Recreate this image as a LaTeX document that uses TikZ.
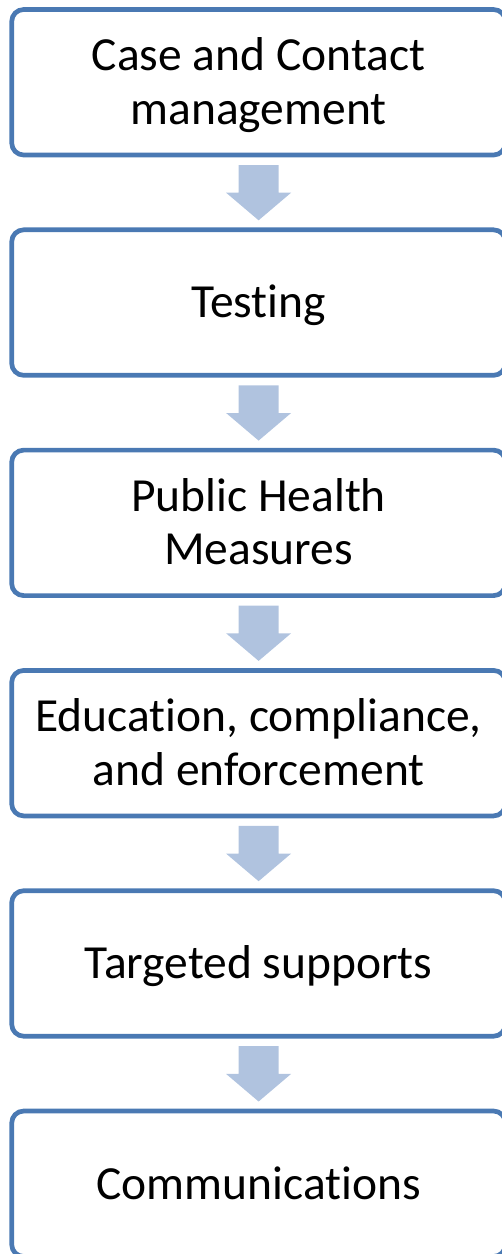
\documentclass[tikz,border=0pt]{standalone}
\usepackage{fontspec}
\setmainfont{Carlito}[Ligatures=NoCommon]
\usetikzlibrary{calc}
\definecolor{boxline}{HTML}{4A79B3}
\definecolor{flowfill}{HTML}{B0C3DF}
\tikzset{
  stage/.style={draw=boxline, line width=4.7pt, fill=white, rounded corners=12pt,
    minimum width=493.8pt, minimum height=145.5pt, inner sep=0pt, outer sep=0pt,
    align=center, font=\fontsize{47.5}{53.3}\selectfont, text height=30.5pt, text depth=0pt},
  twoline/.style={text height=83.8pt},
  flowarrow/.style={fill=flowfill, draw=none}
}
% down arrow between two stages: shaft 40 wide, head 65 wide
\newcommand{\flowdown}[2]{%
  \fill[flowarrow] ($(#1.south)+(-20,10)$) -- ($(#1.south)+(20,10)$)
    -- ($(#1.south)+(20,37.7)$) -- ($(#1.south)+(32.5,37.7)$)
    -- ($(#2.north)+(0,-9.5)$)
    -- ($(#1.south)+(-32.5,37.7)$) -- ($(#1.south)+(-20,37.7)$) -- cycle;}
\begin{document}
\begin{tikzpicture}[x=1pt, y=-1pt]
  \useasboundingbox (0,0) rectangle (502,1254);
  \node[stage, twoline] (case) at (258.6, 82.25) {Case and Contact\\management};
  \node[stage] (test) at (258.6, 302.55) {Testing};
  \node[stage, twoline] (phm) at (258.6, 522.85) {Public Health\\Measures};
  \node[stage, twoline] (edu) at (258.6, 743.15) {Education, compliance,\\and enforcement};
  \node[stage] (supp) at (258.6, 963.45) {Targeted supports};
  \node[stage] (comm) at (258.6, 1183.75) {Communications};
  \flowdown{case}{test}
  \flowdown{test}{phm}
  \flowdown{phm}{edu}
  \flowdown{edu}{supp}
  \flowdown{supp}{comm}
\end{tikzpicture}
\end{document}
